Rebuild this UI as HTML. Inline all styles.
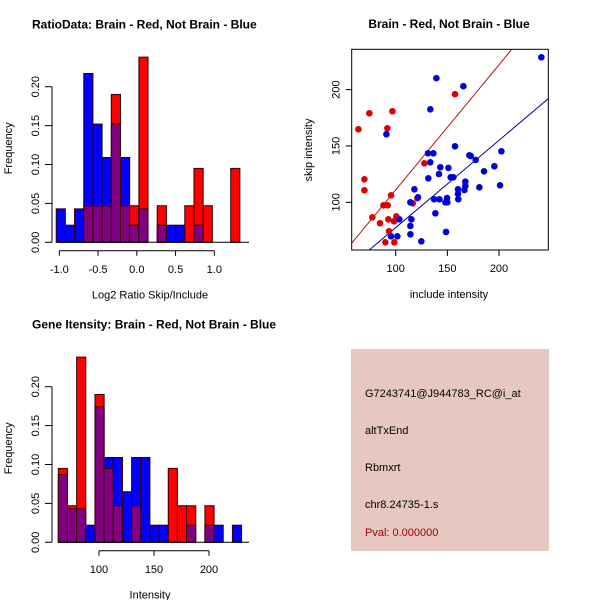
<!DOCTYPE html>
<html><head><meta charset="utf-8"><style>
body{margin:0;background:#fff}
svg{display:block;font-family:"Liberation Sans",sans-serif}
</style></head><body>
<svg id="c" width="600" height="600" viewBox="0 0 600 600"></svg>
<script>
// ---- data ----
const ratioBinStart = -1.04, ratioBinWidth = 0.1185;
const ratioBlue = [0.043,0.022,0.043,0.217,0.152,0.109,0.152,0.109,0.022,0.043,0,0.022,0.022,0.022,0,0.022,0,0,0,0];
const ratioRed  = [0,0,0,0.047,0.047,0.047,0.19,0.047,0.047,0.238,0,0.047,0,0,0.047,0.095,0.047,0,0,0.095];
const ratioXTicks = [-1.0,-0.5,0.0,0.5,1.0];
const freqTicks = [0,0.05,0.10,0.15,0.20];
const intBinStart = 63.0, intBinWidth = 8.33;
const intBlue = [0.087,0.043,0.043,0.022,0.174,0.109,0.109,0.065,0.109,0.109,0.022,0.022,0,0,0.022,0,0.022,0.022,0,0.022];
const intRed  = [0.095,0.047,0.238,0,0.19,0.095,0.047,0,0.047,0,0,0,0.095,0.047,0.047,0,0.047,0,0,0];
const intXTicks = [100,150,200];
const redX = [63.9,74.5,96.8,91.9,69.7,69.7,77.4,84.8,88.1,92.3,95.5,92.9,98.4,100.6,93.5,90,98.7,116.5,121,127.7,157.4];
const redY = [164.8,179,180.8,165.7,120.4,110.7,86.7,81.4,97.3,97.3,106.2,84.9,83.1,87.6,74.3,64.5,64.5,99.1,103.6,134.6,195.9];
const blueX = [241,139.4,165.5,133.5,91,157.4,131.3,136.5,133.5,171.3,172.6,177.4,143.2,151,131.6,141.9,153.2,155.8,195.5,202.3,185.5,167.4,167.4,166.5,160.3,160.3,160.6,118.1,121.6,114.2,137.1,142.3,149.7,150,148.1,181,201,103.5,115.2,114.2,114.2,138.4,148.7,95.5,101.6,124.8];
const blueY = [228.7,210.1,203,182.5,160.4,149.7,143.5,143.5,135.5,141.7,141.1,137.6,131.1,130.5,121.3,125.1,122.2,122.2,132,145.3,127.5,118.3,114.5,110.9,111.5,107.4,102.7,111.5,104.4,100,102.7,102.7,103.8,100,100,113.3,115.1,84.9,84.9,79,71.6,90.2,73.7,69.8,69.8,65.4];
const redSlope = 1.11, blueSlope = 0.775;
const scatTicks = [100,150,200];

const NS="http://www.w3.org/2000/svg", svg=document.getElementById('c');
function mk(t,a,p){const e=document.createElementNS(NS,t);for(const k in a)e.setAttribute(k,a[k]);(p||svg).appendChild(e);return e;}
function txt(s,x,y,o){const e=mk('text',Object.assign({x:x,y:y,'font-size':11,'text-anchor':'middle',fill:'#000'},o||{}));e.textContent=s;return e;}

function hist(gname,y0,xs,bs,bw,blue,red,xticks,xmin,xmax,title,xlab,fmt){
  const g=mk('g',{});
  
  
  const sx=v=>xs.x0+(v-xs.v0)*xs.k, sy=v=>y0-v*778;
  for(let i=0;i<blue.length;i++){
    const l=sx(bs+i*bw), w=bw*xs.k, b=blue[i], r=red[i];
    const hi=Math.max(b,r), lo=Math.min(b,r);
    if(hi>0){const e=mk('rect',{x:l,y:sy(hi),width:w,height:hi*778,fill:b>=r?'#0000ff':'#ff0000',stroke:'#300','stroke-width':1},g);
      
      }
    if(lo>0){const e=mk('rect',{x:l,y:sy(lo),width:w,height:lo*778,fill:'#800080',stroke:'#300','stroke-width':1},g);
      
      }
  }
  mk('line',{x1:58,x2:249,y1:y0,y2:y0,stroke:'#000'},g);
  mk('line',{x1:52,x2:52,y1:sy(0),y2:sy(0.2),stroke:'#000'},g);
  freqTicks.forEach(t=>{mk('line',{x1:45,x2:52,y1:sy(t),y2:sy(t),stroke:'#000'},g);
    txt(t.toFixed(2),36,sy(t),{transform:`rotate(-90 36 ${sy(t)})`,'dominant-baseline':'middle'});});
  const ay=y0+8.5;
  mk('line',{x1:sx(xticks[0]),x2:sx(xticks[xticks.length-1]),y1:ay,y2:ay,stroke:'#000'},g);
  xticks.forEach(t=>{mk('line',{x1:sx(t),x2:sx(t),y1:ay,y2:ay+5,stroke:'#000'},g);txt(fmt(t),sx(t),ay+22,{});});
  const yl=txt('Frequency',12,y0-94,{transform:`rotate(-90 12 ${y0-94})`});
  
  const xl=txt(xlab,150,y0+56,{});
  
  const tt=txt(title,32,y0-214,{'text-anchor':'start','font-weight':'bold','font-size':12});
  
}
hist('ratio-histogram',242.3,{x0:59.3,v0:-1,k:77.5},ratioBinStart,ratioBinWidth,ratioBlue,ratioRed,ratioXTicks,0,0,'RatioData: Brain - Red, Not Brain - Blue','Log2 Ratio Skip/Include',t=>t.toFixed(1));
hist('intensity-histogram',542.3,{x0:99,v0:100,k:1.1},intBinStart,intBinWidth,intBlue,intRed,intXTicks,0,0,'Gene Itensity: Brain - Red, Not Brain - Blue','Intensity',t=>String(t));

// scatter
const sg=mk('g',{});


const L=351.7,R=548.3,T=49.3,B=250;
const X=v=>395.7+(v-100)*1.033, Y=v=>202.3-(v-100)*1.127;
const cp=mk('clipPath',{id:'cl'},sg);mk('rect',{x:L,y:T,width:R-L,height:B-T},cp);
const lr=mk('line',{x1:X(40),y1:Y(40*redSlope),x2:X(260),y2:Y(260*redSlope),stroke:'#b01818','clip-path':'url(#cl)'},sg);


const lb=mk('line',{x1:X(40),y1:Y(40*blueSlope),x2:X(260),y2:Y(260*blueSlope),stroke:'#000099','clip-path':'url(#cl)'},sg);


redX.forEach((v,i)=>{const c=mk('circle',{cx:X(v),cy:Y(redY[i]),r:3.3,fill:'#e00000'},sg);
  
  });
blueX.forEach((v,i)=>{const c=mk('circle',{cx:X(v),cy:Y(blueY[i]),r:3.3,fill:'#0000dd'},sg);
  
  });
mk('rect',{x:L,y:T,width:R-L,height:B-T,fill:'none',stroke:'#000'},sg);
scatTicks.forEach(t=>{mk('line',{x1:X(t),x2:X(t),y1:B,y2:B+6,stroke:'#000'},sg);txt(t,X(t),B+22,{});
  mk('line',{x1:L-6,x2:L,y1:Y(t),y2:Y(t),stroke:'#000'},sg);
  txt(t,L-15,Y(t),{transform:`rotate(-90 ${L-15} ${Y(t)})`,'dominant-baseline':'middle'});});
let e=txt('include intensity',449,298,{});
e=txt('skip intensity',312,150,{transform:'rotate(-90 312 150)'});
e=txt('Brain - Red, Not Brain - Blue',449,28,{'font-weight':'bold','font-size':12});

// info panel
const pg=mk('g',{});


mk('rect',{x:351,y:349,width:198,height:202,fill:'#e6c8c1'},pg);
[['G7243741@J944783_RC@i_at',397,'#000'],['altTxEnd',434,'#000'],['Rbmxrt',471,'#000'],['chr8.24735-1.s',508,'#000'],['Pval: 0.000000',536,'#990000']].forEach(a=>{
  const t=txt(a[0],365,a[1],{'text-anchor':'start',fill:a[2]});
  
});
</script>
</body></html>
